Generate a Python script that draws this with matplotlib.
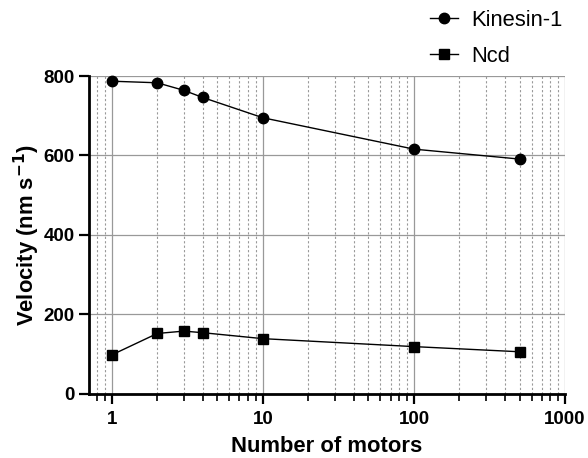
import matplotlib.pyplot as plt
from matplotlib.ticker import LogLocator, NullFormatter, FixedLocator

plt.rcParams['font.family'] = ['Liberation Sans', 'DejaVu Sans']

# Velocidade em função do número de motores
motors = [1, 2, 3, 4, 10, 100, 500]
kinesin = [787, 783, 764, 746, 695, 616, 591]
ncd = [98, 152, 158, 154, 139, 119, 106]

fig = plt.figure(figsize=(5.88, 4.58), dpi=100)
ax = fig.add_axes([0.151, 0.140, 0.810, 0.694])

ax.plot(motors, kinesin, 'o-', color='black', lw=1.0, ms=7.5, label='Kinesin-1', zorder=3, clip_on=False)
ax.plot(motors, ncd, 's-', color='black', lw=1.0, ms=7.5, label='Ncd', zorder=3, clip_on=False)

ax.set_xscale('log')
ax.set_xlim(0.705, 1000)
ax.set_ylim(0, 800)
ax.xaxis.set_major_locator(FixedLocator([1, 10, 100, 1000]))
ax.xaxis.set_minor_locator(LogLocator(base=10, subs=range(2, 10), numticks=20))
ax.xaxis.set_minor_formatter(NullFormatter())
ax.set_xticklabels(['1', '10', '100', '1000'])
ax.set_yticks([0, 200, 400, 600, 800])

# Grade principal contínua e secundária pontilhada
ax.grid(True, which='major', color='#999999', lw=0.9, ls='-')
ax.grid(True, which='minor', axis='x', color='#999999', lw=0.8, ls=(0, (2, 2)))
ax.set_axisbelow(True)

for s in ['top', 'right']:
    ax.spines[s].set_visible(False)
for s in ['left', 'bottom']:
    ax.spines[s].set_linewidth(2.0)

ax.tick_params(axis='both', which='major', direction='out', length=7, width=1.6, labelsize=13.5, pad=5)
ax.tick_params(axis='y', which='major', pad=3)
ax.tick_params(axis='x', which='minor', direction='out', length=5, width=1.2)
for lbl in ax.get_xticklabels() + ax.get_yticklabels():
    lbl.set_fontweight('bold')

ax.set_xlabel('Number of motors', fontsize=15.8, fontweight='bold', labelpad=6)
ax.set_ylabel('Velocity (nm s$^{\\mathbf{-1}}$)', fontsize=15.8, fontweight='bold', labelpad=1)

ax.legend(loc='upper left', bbox_to_anchor=(0.716, 1.208), frameon=False, fontsize=15.8,
          borderpad=0, borderaxespad=0, handlelength=1.3, handletextpad=0.6, labelspacing=0.68)

plt.savefig('out.png')
